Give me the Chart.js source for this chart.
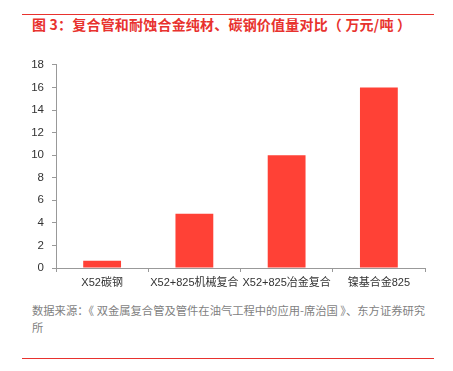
<!DOCTYPE html>
<html>
<head>
<meta charset="utf-8">
<script src="https://cdn.jsdelivr.net/npm/chart.js@4"></script>
<style>
  body { margin: 0; background: #fff; width: 453px; height: 371px; position: relative; overflow: hidden; }
  .line { position: absolute; left: 22px; width: 412px; height: 1px; background: #e8322e; }
  .title { position: absolute; left: 32px; top: 14px; font: bold 14px "Noto Sans CJK SC", sans-serif; color: #e8322e; letter-spacing: 0.2px; white-space: nowrap; }
  .src { position: absolute; left: 32px; top: 302px; font: 11.3px "Noto Sans CJK SC", sans-serif; color: #7f7f7f; line-height: 17px; white-space: nowrap; }
  .wrap { position: absolute; left: 0; top: 50px; width: 453px; height: 240px; }
</style>
</head>
<body>
<div class="line" style="top:14px"></div>
<div class="title">图 3：复合管和耐蚀合金纯材、碳钢价值量对比（ 万元/吨 ）</div>
<div class="wrap"><canvas id="myChart" width="453" height="240"></canvas></div>
<div class="src">数据来源：《 双金属复合管及管件在油气工程中的应用-席治国 》、东方证券研究<br>所</div>
<div class="line" style="top:358px"></div>
<script>
const labels = ['X52碳钢', 'X52+825机械复合', 'X52+825冶金复合', '镍基合金825'];
const values = [0.65, 4.8, 10, 16];
const yTicks = [0, 2, 4, 6, 8, 10, 12, 14, 16, 18];

const ctx = document.getElementById('myChart').getContext('2d');
const family = '"Liberation Sans", "Noto Sans CJK SC", sans-serif';

const myChart = new Chart(ctx, {
  type: 'bar',
  data: {
    labels: labels,
    datasets: [{
      data: values,
      backgroundColor: '#ff4136',
      barPercentage: 0.41,
      categoryPercentage: 1
    }]
  },
  options: {
    responsive: false,
    animation: false,
    devicePixelRatio: 1,
    layout: { padding: { top: 6, right: 28, left: 0, bottom: 0 } },
    plugins: { legend: { display: false }, tooltip: { enabled: false } },
    scales: {
      x: {
        grid: { drawOnChartArea: false, tickLength: 4, color: '#999' },
        border: { color: '#999' },
        ticks: { color: '#333', font: { family: family, size: 11 }, padding: 4, maxRotation: 0, autoSkip: false },
        afterFit: s => { s.height = 22; }
      },
      y: {
        min: 0, max: 18,
        afterBuildTicks: s => { s.ticks = yTicks.map(v => ({ value: v })); },
        grid: { drawOnChartArea: false, tickLength: 4, color: '#999' },
        border: { color: '#999' },
        ticks: { color: '#333', font: { family: family, size: 11.5 }, padding: 8 },
        afterFit: s => { s.width = 56; }
      }
    }
  }
});
</script>
</body>
</html>
